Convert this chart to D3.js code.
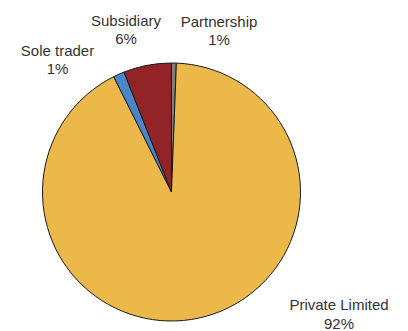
<!DOCTYPE html>
<html>
<head>
<meta charset="utf-8">
<script src="https://cdn.jsdelivr.net/npm/d3@7/dist/d3.min.js"></script>
<style>
  html, body { margin: 0; padding: 0; background: #fff; }
  svg { display: block; }
</style>
</head>
<body>
<svg id="chart" width="408" height="331"></svg>
<script>
// Legal form of companies, share of total (%), clockwise from 12 o'clock
const categories = ["Partnership", "Private Limited", "Sole trader", "Subsidiary"];
const shares = [0.6, 92.0, 1.4, 6.0];
const colors = ["#7f7f7f", "#edb84a", "#4a86c8", "#922428"];

const W = 408, H = 331;
const cx = 171.5, cy = 192, radius = 129;

const svg = d3.select("#chart");

const data = categories.map((c, i) => ({ name: c, value: shares[i], color: colors[i] }));
const total = d3.sum(shares);

const pie = d3.pie().value(d => d.value).sort(null).startAngle(0).endAngle(2 * Math.PI);
const arc = d3.arc().innerRadius(0).outerRadius(radius);

const g = svg.append("g").attr("transform", `translate(${cx},${cy})`);

g.selectAll("path.slice")
  .data(pie(data))
  .join("path")
  .attr("class", "slice")
  .attr("d", arc)
  .attr("fill", d => d.data.color)
  .attr("stroke", "#1a1a1a")
  .attr("stroke-width", 1)
  .attr("stroke-linejoin", "round");

// Label anchors (centre of first text line baseline)
const labelPos = {
  "Partnership": [219, 26.5],
  "Private Limited": [339, 310],
  "Sole trader": [57.5, 55.5],
  "Subsidiary": [126, 25.5]
};

const labels = svg.append("g")
  .attr("font-family", "'Liberation Sans', Arial, sans-serif")
  .attr("font-size", 15)
  .attr("fill", "#333")
  .attr("text-anchor", "middle");

data.forEach(d => {
  const [x, y] = labelPos[d.name];
  const t = labels.append("text").attr("x", x).attr("y", y);
  t.append("tspan").attr("x", x).text(d.name);
  t.append("tspan").attr("x", x).attr("dy", 18.5).text(Math.round(d.value / total * 100) + "%");
});
</script>
</body>
</html>
